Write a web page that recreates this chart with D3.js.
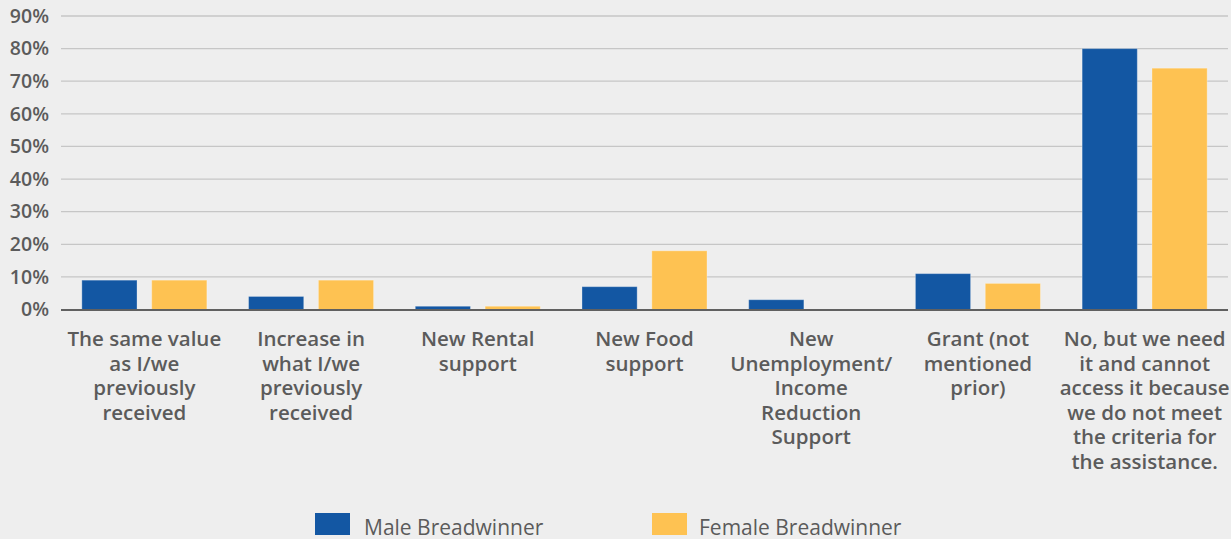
<!DOCTYPE html>
<html>
<head>
<meta charset="utf-8">
<script src="https://cdn.jsdelivr.net/npm/d3@7"></script>
<style>
  html, body { margin: 0; padding: 0; background: #eeeeee; }
  svg { display: block; }
  text { font-family: "Open Sans", "Noto Sans", sans-serif; }
</style>
</head>
<body>
<svg id="chart" width="1231" height="539"></svg>
<script>
const categories = [
  ["The same value", "as I/we", "previously", "received"],
  ["Increase in", "what I/we", "previously", "received"],
  ["New Rental", "support"],
  ["New Food", "support"],
  ["New", "Unemployment/", "Income", "Reduction", "Support"],
  ["Grant (not", "mentioned", "prior)"],
  ["No, but we need", "it and cannot", "access it because", "we do not meet", "the criteria for", "the assistance."]
];
const seriesNames = ["Male Breadwinner", "Female Breadwinner"];
const maleValues = [9, 4, 1, 7, 3, 11, 80];
const femaleValues = [9, 9, 1, 18, 0, 8, 74];
const yTicks = [0, 10, 20, 30, 40, 50, 60, 70, 80, 90];
const colors = ["#1357a3", "#fec252"];

const svg = d3.select("#chart");
const mLeft = 61, mRight = 1228, mTop = 16, mBottom = 309.5;

const catKeys = categories.map((c, i) => i);
const x = d3.scaleBand().domain(catKeys).range([mLeft, mRight]).paddingInner(0.25).paddingOuter(0.125);
const xs = d3.scaleBand().domain([0, 1]).range([0, x.bandwidth()]).paddingInner(0.21);
const y = d3.scaleLinear().domain([0, 90]).range([mBottom, mTop]);

// gridlines
svg.append("g").selectAll("line").data(yTicks.filter(t => t > 0)).join("line")
  .attr("x1", mLeft).attr("x2", mRight)
  .attr("y1", d => y(d)).attr("y2", d => y(d))
  .attr("stroke", "#c6c6c6").attr("stroke-width", 1.3);

// y labels
svg.append("g").selectAll("text").data(yTicks).join("text")
  .attr("x", 49).attr("y", d => y(d)).attr("dy", "0.35em")
  .attr("text-anchor", "end")
  .attr("font-size", 19.5).attr("font-weight", 600).attr("fill", "#5b5b5b")
  .text(d => d + "%");

// bars
const data = catKeys.map(i => ({ i, vals: [maleValues[i], femaleValues[i]] }));
const groups = svg.append("g").selectAll("g").data(data).join("g")
  .attr("transform", d => `translate(${x(d.i)},0)`);
groups.selectAll("rect").data(d => d.vals.map((v, s) => ({ v, s })).filter(e => e.v > 0)).join("rect")
  .attr("x", d => xs(d.s))
  .attr("width", xs.bandwidth())
  .attr("y", d => y(d.v))
  .attr("height", d => y(0) - y(d.v))
  .attr("fill", d => colors[d.s])
  .attr("stroke", "rgba(255,255,255,0.3)")
  .attr("stroke-width", 1);

// baseline
svg.append("line").attr("x1", mLeft).attr("x2", mRight)
  .attr("y1", y(0) + 0.5).attr("y2", y(0) + 0.5)
  .attr("stroke", "#606060").attr("stroke-width", 2.2);

// x labels
const xl = svg.append("g").selectAll("text").data(catKeys).join("text")
  .attr("x", d => x(d) + x.bandwidth() / 2)
  .attr("y", 339)
  .attr("text-anchor", "middle")
  .attr("font-size", 20.5).attr("font-weight", 600).attr("fill", "#5b5b5b");
xl.selectAll("tspan").data(d => categories[d]).join("tspan")
  .attr("x", function() { return d3.select(this.parentNode).attr("x"); })
  .attr("y", (d, k) => 339 + k * 24.5)
  .attr("dy", "0.35em")
  .text(d => d);

// legend
const legendSwatchX = [315, 652];
const legendTextX = [364, 699];
const lg = svg.append("g").selectAll("g").data(seriesNames).join("g");
lg.append("rect").attr("x", (d, i) => legendSwatchX[i]).attr("y", 513)
  .attr("width", 35).attr("height", 22).attr("fill", (d, i) => colors[i]);
lg.append("text").attr("x", (d, i) => legendTextX[i]).attr("y", 535)
  .attr("font-size", 21).attr("font-weight", 500).attr("fill", "#5b5b5b")
  .text(d => d);
</script>
</body>
</html>
